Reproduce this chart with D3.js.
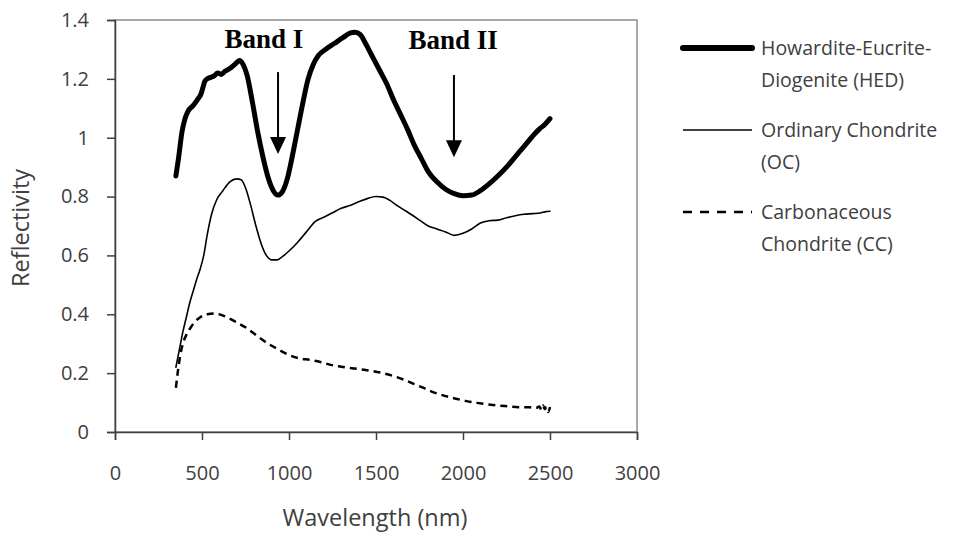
<!DOCTYPE html>
<html lang="en">

<head>
    <meta charset="UTF-8">
    <style type="text/css">
        body {
            margin: 0;
            background: #fff;
        }

        .axis path,
        .axis line {
            fill: none;
            stroke: #404040;
            stroke-width: 1.5px;
        }

        .axis text {
            font-family: "Open Sans", sans-serif;
            font-size: 20px;
            fill: #404040;
        }

        .title {
            font-family: "Open Sans", sans-serif;
            font-size: 23.5px;
            fill: #404040;
        }

        .legend text {
            font-family: "Open Sans", sans-serif;
            font-size: 19.5px;
            fill: #404040;
        }

        .band text {
            font-family: "Liberation Serif", serif;
            font-weight: bold;
            font-size: 27px;
            fill: #000;
            text-anchor: middle;
        }
    </style>
</head>

<body>
    <div class="main"></div>

    <script src="https://cdn.jsdelivr.net/npm/d3@7"></script>
    <script type="text/javascript">

        // spectra: [wavelength nm, reflectivity]
        var hed = [[350, 0.87], [365, 0.93], [385, 1.02], [400, 1.06], [420, 1.09], [450, 1.11], [475, 1.13],
        [495, 1.15], [505, 1.17], [515, 1.19], [530, 1.20], [550, 1.205], [570, 1.21], [590, 1.22], [610, 1.215],
        [630, 1.225], [660, 1.235], [690, 1.25], [715, 1.262], [735, 1.25], [760, 1.21], [790, 1.12], [820, 1.02],
        [850, 0.935], [880, 0.865], [910, 0.82], [935, 0.805], [960, 0.815], [990, 0.86], [1020, 0.94], [1050, 1.03],
        [1080, 1.12], [1110, 1.20], [1140, 1.25], [1170, 1.28], [1210, 1.30], [1260, 1.32], [1310, 1.34],
        [1350, 1.355], [1380, 1.358], [1410, 1.35], [1440, 1.32], [1480, 1.275], [1520, 1.23], [1560, 1.185],
        [1600, 1.13], [1640, 1.08], [1680, 1.03], [1720, 0.975], [1760, 0.93], [1800, 0.885], [1850, 0.85],
        [1900, 0.825], [1950, 0.81], [2000, 0.803], [2050, 0.805], [2100, 0.82], [2150, 0.843], [2200, 0.87],
        [2250, 0.90], [2300, 0.935], [2350, 0.97], [2400, 1.005], [2440, 1.03], [2470, 1.045], [2500, 1.065]];

        var oc = [[350, 0.22], [370, 0.28], [390, 0.34], [410, 0.39], [430, 0.44], [450, 0.48], [470, 0.52],
        [490, 0.555], [510, 0.60], [530, 0.67], [555, 0.74], [585, 0.79], [620, 0.82], [660, 0.85], [700, 0.86],
        [725, 0.857], [750, 0.83], [780, 0.77], [810, 0.70], [840, 0.64], [870, 0.60], [900, 0.585], [930, 0.585],
        [960, 0.595], [1000, 0.615], [1050, 0.645], [1100, 0.68], [1150, 0.715], [1200, 0.73], [1250, 0.745],
        [1300, 0.76], [1350, 0.77], [1400, 0.782], [1450, 0.793], [1500, 0.80], [1540, 0.798], [1580, 0.787],
        [1620, 0.77], [1660, 0.755], [1700, 0.74], [1750, 0.72], [1800, 0.70], [1850, 0.69], [1900, 0.68],
        [1950, 0.668], [2000, 0.675], [2050, 0.69], [2100, 0.71], [2150, 0.718], [2200, 0.72], [2250, 0.728],
        [2300, 0.735], [2350, 0.74], [2400, 0.742], [2450, 0.745], [2470, 0.748], [2500, 0.75]];

        var cc = [[350, 0.15], [360, 0.20], [375, 0.26], [390, 0.30], [410, 0.33], [435, 0.355], [460, 0.375],
        [490, 0.39], [530, 0.40], [570, 0.403], [610, 0.398], [650, 0.388], [700, 0.372], [760, 0.352],
        [820, 0.325], [880, 0.30], [940, 0.28], [1000, 0.262], [1060, 0.25], [1120, 0.245], [1180, 0.238],
        [1240, 0.228], [1300, 0.222], [1360, 0.217], [1420, 0.212], [1480, 0.207], [1540, 0.20], [1600, 0.19],
        [1660, 0.178], [1720, 0.163], [1780, 0.148], [1840, 0.133], [1900, 0.122], [1960, 0.113], [2020, 0.105],
        [2080, 0.099], [2140, 0.094], [2200, 0.09], [2260, 0.087], [2320, 0.084], [2380, 0.084], [2420, 0.082],
        [2440, 0.087], [2450, 0.075], [2460, 0.09], [2470, 0.078], [2480, 0.085], [2490, 0.068], [2500, 0.085]];

        var seriesNames = [["Howardite-Eucrite-", "Diogenite (HED)"], ["Ordinary Chondrite", "(OC)"], ["Carbonaceous", "Chondrite (CC)"]];

        var xTicks = [0, 500, 1000, 1500, 2000, 2500, 3000];
        var yTicks = [0, 0.2, 0.4, 0.6, 0.8, 1, 1.2, 1.4];

        // band arrows: label, wavelength, arrow top, arrow tip, label position
        var bands = [
            { label: "Band I", x: 937, top: 1.223, tip: 0.945, labelX: 856, labelY: 1.305 },
            { label: "Band II", x: 1948, top: 1.213, tip: 0.934, labelX: 1943, labelY: 1.300 }
        ];

        var margin = { top: 20, right: 332, bottom: 106, left: 115 },
            width = 969 - margin.left - margin.right,
            height = 538 - margin.top - margin.bottom;

        var styles = [
            { width: 5, dash: null },
            { width: 1.6, dash: null },
            { width: 2.5, dash: "7,5" }
        ];

        var svg = d3.select(".main").append("svg")
            .attr("width", 969)
            .attr("height", 538)
            .append("g")
            .attr("transform", "translate(" + margin.left + "," + margin.top + ")");

        var x = d3.scaleLinear().domain([0, 3000]).range([0, width]);
        var y = d3.scaleLinear().domain([0, 1.4]).range([height, 0]);

        // plot frame
        svg.append("rect")
            .attr("width", width)
            .attr("height", height)
            .attr("fill", "none")
            .attr("stroke", "#8c8c8c")
            .attr("stroke-width", 1.5);

        svg.append("g")
            .attr("class", "axis")
            .attr("transform", "translate(0," + height + ")")
            .call(d3.axisBottom(x).tickValues(xTicks).tickSizeOuter(0).tickSize(8).tickPadding(26)
                .tickFormat(d3.format("d")));

        svg.append("g")
            .attr("class", "axis")
            .call(d3.axisLeft(y).tickValues(yTicks).tickSizeOuter(0).tickSize(8).tickPadding(18)
                .tickFormat(function (d) { return d3.format("")(+d.toFixed(1)); }));

        svg.append("text")
            .attr("class", "title")
            .attr("x", width / 2 - 1)
            .attr("y", 506)
            .attr("text-anchor", "middle")
            .text("Wavelength (nm)");

        svg.append("text")
            .attr("class", "title")
            .attr("transform", "translate(" + (29 - margin.left) + "," + (y(0.7) + 2) + ") rotate(-90)")
            .attr("text-anchor", "middle")
            .text("Reflectivity");

        var line = d3.line()
            .x(function (d) { return x(d[0]); })
            .y(function (d) { return y(d[1]); })
            .curve(d3.curveMonotoneX);

        [hed, oc, cc].forEach(function (s, i) {
            svg.append("path")
                .attr("d", line(s))
                .attr("fill", "none")
                .attr("stroke", "#000")
                .attr("stroke-width", styles[i].width)
                .attr("stroke-dasharray", styles[i].dash)
                .attr("stroke-linejoin", "round")
                .attr("stroke-linecap", i == 2 ? "butt" : "round");
        });

        // band annotations
        var band = svg.selectAll(".band")
            .data(bands)
            .enter().append("g")
            .attr("class", "band");

        band.append("text")
            .attr("x", function (d) { return x(d.labelX); })
            .attr("y", function (d) { return y(d.labelY); })
            .text(function (d) { return d.label; });

        band.append("line")
            .attr("x1", function (d) { return x(d.x); })
            .attr("x2", function (d) { return x(d.x); })
            .attr("y1", function (d) { return y(d.top); })
            .attr("y2", function (d) { return y(d.tip) - 12; })
            .attr("stroke", "#000")
            .attr("stroke-width", 2);

        band.append("path")
            .attr("d", function (d) {
                var px = x(d.x), py = y(d.tip);
                return "M" + (px - 8) + "," + (py - 17) + "L" + (px + 8) + "," + (py - 17) + "L" + px + "," + py + "Z";
            })
            .attr("fill", "#000");

        // legend
        var legend = svg.append("g")
            .attr("class", "legend")
            .attr("transform", "translate(" + (683 - margin.left) + ",0)");

        var item = legend.selectAll("g")
            .data(seriesNames)
            .enter().append("g")
            .attr("transform", function (d, i) { return "translate(0," + (28 + i * 82) + ")"; });

        item.append("line")
            .attr("x1", 0)
            .attr("x2", 69)
            .attr("stroke", "#000")
            .attr("stroke-width", function (d, i) { return i == 0 ? 6 : styles[i].width; })
            .attr("stroke-dasharray", function (d, i) { return i == 2 ? "9,8" : null; })
            .attr("stroke-linecap", function (d, i) { return i == 0 ? "round" : "butt"; });

        item.selectAll("text")
            .data(function (d) { return d; })
            .enter().append("text")
            .attr("x", 78)
            .attr("y", function (d, i) { return i * 32; })
            .attr("dy", "0.35em")
            .text(function (d) { return d; });

    </script>
</body>

</html>
